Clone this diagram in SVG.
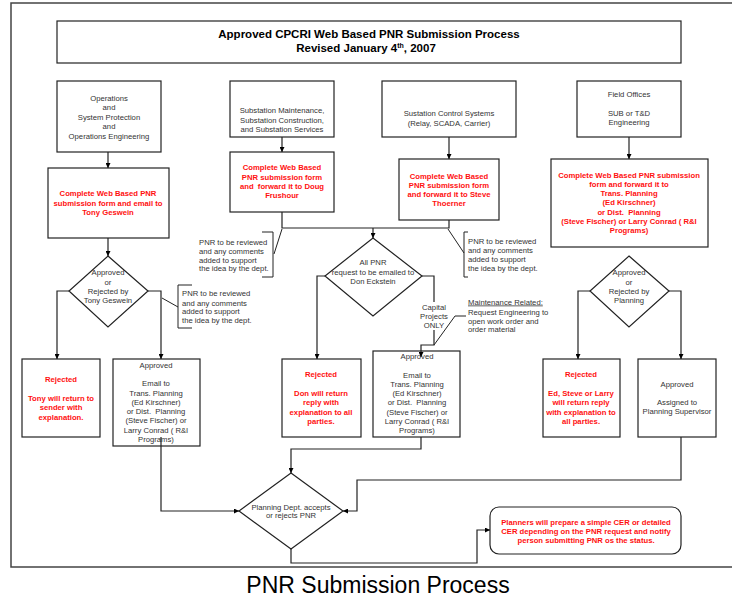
<svg xmlns="http://www.w3.org/2000/svg" width="732" height="602" viewBox="0 0 732 602">
<style>
text{font-family:"Liberation Sans",Arial,sans-serif;font-size:7.7px;fill:#333;text-anchor:middle}
.r{fill:#ff1010;font-weight:bold}
.l{text-anchor:start}
.box{fill:#fff;stroke:#222;stroke-width:1.2}
.c{fill:none;stroke:#222;stroke-width:1.2}
.a{fill:none;stroke:#222;stroke-width:1.2;marker-end:url(#ah)}
.t{font-size:11.5px;font-weight:bold;fill:#000}
.k{fill:none;stroke:#222;stroke-width:1}
</style>
<defs>
<marker id="ah" viewBox="0 0 6 6" refX="6" refY="3" markerWidth="5" markerHeight="5" markerUnits="userSpaceOnUse" orient="auto">
<path d="M0,0L6,3L0,6z" fill="#000"/>
</marker>
</defs>
<rect width="732" height="602" fill="#fff"/>
<path d="M740,3H11V567H740" fill="none" stroke="#444" stroke-width="1.5"/>
<g id="title">
<rect class="box" x="57" y="21" width="624" height="42"/>
<text class="t" x="369" y="38">Approved CPCRI Web Based PNR Submission Process</text>
<text class="t" x="366" y="52">Revised January 4<tspan font-size="7px" dy="-4">th</tspan><tspan dy="4">, 2007</tspan></text>
</g>
<g id="opsSource">
<rect class="box" x="57" y="81" width="104" height="71"/>
<text x="109" y="101">Operations</text>
<text x="109" y="110">and</text>
<text x="109" y="120">System Protection</text>
<text x="109" y="129">and</text>
<text x="109" y="139">Operations Engineering</text>
</g>
<g id="subSource">
<rect class="box" x="230" y="81" width="104" height="56"/>
<text x="282" y="113">Substation Maintenance,</text>
<text x="282" y="123">Substation Construction,</text>
<text x="282" y="132">and Substation Services</text>
</g>
<g id="scsSource">
<rect class="box" x="382" y="81" width="134" height="56"/>
<text x="449" y="116">Sustation Control Systems</text>
<text x="449" y="125.5">(Relay, SCADA, Carrier)</text>
</g>
<g id="fieldSource">
<rect class="box" x="577" y="81" width="104" height="56"/>
<text x="629" y="97">Field Offices</text>
<text x="629" y="116">SUB or T&amp;D</text>
<text x="629" y="125">Engineering</text>
</g>
<g id="formTony">
<rect class="box" x="48" y="168" width="121" height="70"/>
<text class="r" x="108" y="196">Complete Web Based PNR</text>
<text class="r" x="108" y="205.5">submission form and email to</text>
<text class="r" x="108" y="215">Tony Geswein</text>
</g>
<g id="formDoug">
<rect class="box" x="230" y="152" width="104" height="60"/>
<text class="r" x="282" y="170">Complete Web Based</text>
<text class="r" x="282" y="179.5">PNR submission form</text>
<text class="r" x="282" y="188.5" xml:space="preserve">and  forward it to Doug</text>
<text class="r" x="282" y="198">Frushour</text>
</g>
<g id="formSteve">
<rect class="box" x="399" y="159" width="100" height="61"/>
<text class="r" x="449" y="179">Complete Web Based</text>
<text class="r" x="449" y="188">PNR submission form</text>
<text class="r" x="449" y="197">and forward it to Steve</text>
<text class="r" x="449" y="206">Thoerner</text>
</g>
<g id="formPlanning">
<rect class="box" x="551" y="159" width="157" height="88"/>
<text class="r" x="629" y="178">Complete Web Based PNR submission</text>
<text class="r" x="629" y="187">form and forward it to</text>
<text class="r" x="629" y="196">Trans. Planning</text>
<text class="r" x="629" y="205">(Ed Kirschner)</text>
<text class="r" x="629" y="215" xml:space="preserve">or Dist.  Planning</text>
<text class="r" x="629" y="224">(Steve Fischer) or Larry Conrad ( R&amp;I</text>
<text class="r" x="629" y="233">Programs)</text>
</g>
<g id="noteDoug">
<text class="l" x="199" y="244.5">PNR to be reviewed</text>
<text class="l" x="199" y="253.5">and any comments</text>
<text class="l" x="199" y="262.5">added to support</text>
<text class="l" x="199" y="271">the idea by the dept.</text>
</g>
<g id="noteSteve">
<text class="l" x="468" y="244">PNR to be reviewed</text>
<text class="l" x="468" y="253">and any comments</text>
<text class="l" x="468" y="262">added to support</text>
<text class="l" x="468" y="271">the idea by the dept.</text>
</g>
<g id="noteTony">
<text class="l" x="182" y="296">PNR to be reviewed</text>
<text class="l" x="182" y="305.5">and any comments</text>
<text class="l" x="182" y="314">added to support</text>
<text class="l" x="182" y="323">the idea by the dept.</text>
</g>
<g id="decisionTony">
<path class="box" d="M108,256L148,291L108,327L69,291Z"/>
<text x="108" y="275">Approved</text>
<text x="108" y="284.5">or</text>
<text x="108" y="293.5">Rejected by</text>
<text x="108" y="303">Tony Geswein</text>
</g>
<g id="decisionDon">
<path class="box" d="M373,238L422,276L373,316L325,276Z"/>
<text x="373" y="265">All PNR</text>
<text x="373" y="274.5">request to be emailed to</text>
<text x="373" y="284">Don Eckstein</text>
</g>
<g id="decisionPlanning">
<path class="box" d="M629,256L669,291L629,327L590,291Z"/>
<text x="629" y="275">Approved</text>
<text x="629" y="284.5">or</text>
<text x="629" y="293.5">Rejected by</text>
<text x="629" y="303">Planning</text>
</g>
<g id="capitalLabel">
<text x="434" y="310">Capital</text>
<text x="434" y="319">Projects</text>
<text x="434" y="328">ONLY</text>
</g>
<g id="maintenanceNote">
<text class="l" x="468" y="304.5" text-decoration="underline">Maintenance Related:</text>
<text class="l" x="468" y="314.5">Request Engineering to</text>
<text class="l" x="468" y="323.5">open work order and</text>
<text class="l" x="468" y="332">order material</text>
</g>
<g id="rejectedTony">
<rect class="box" x="22" y="359" width="78" height="78"/>
<text class="r" x="61" y="382">Rejected</text>
<text class="r" x="61" y="401">Tony will return to</text>
<text class="r" x="61" y="410">sender with</text>
<text class="r" x="61" y="419.5">explanation.</text>
</g>
<g id="approvedTony">
<rect class="box" x="113" y="359" width="87" height="87"/>
<text x="156" y="368">Approved</text>
<text x="156" y="385.5">Email to</text>
<text x="156" y="395.5">Trans. Planning</text>
<text x="156" y="404.5">(Ed Kirschner)</text>
<text x="156" y="414" xml:space="preserve">or Dist.  Planning</text>
<text x="156" y="423">(Steve Fischer) or</text>
<text x="156" y="433">Larry Conrad ( R&amp;I</text>
<text x="156" y="442">Programs)</text>
</g>
<g id="rejectedDon">
<rect class="box" x="282" y="359" width="79" height="78"/>
<text class="r" x="321" y="377">Rejected</text>
<text class="r" x="321" y="396">Don will return</text>
<text class="r" x="321" y="405">reply with</text>
<text class="r" x="321" y="414.5">explanation to all</text>
<text class="r" x="321" y="424">parties.</text>
</g>
<g id="approvedDon">
<rect class="box" x="373" y="351" width="87" height="86"/>
<text x="417" y="359">Approved</text>
<text x="417" y="378">Email to</text>
<text x="417" y="387">Trans. Planning</text>
<text x="417" y="395.5">(Ed Kirschner)</text>
<text x="417" y="404.5" xml:space="preserve">or Dist.  Planning</text>
<text x="417" y="414.5">(Steve Fischer) or</text>
<text x="417" y="423.5">Larry Conrad ( R&amp;I</text>
<text x="417" y="433">Programs)</text>
</g>
<g id="rejectedPlanning">
<rect class="box" x="543" y="359" width="77" height="78"/>
<text class="r" x="581" y="377">Rejected</text>
<text class="r" x="581" y="396">Ed, Steve or Larry</text>
<text class="r" x="581" y="405">will return reply</text>
<text class="r" x="581" y="414.5">with explanation to</text>
<text class="r" x="581" y="424">all parties.</text>
</g>
<g id="approvedPlanning">
<rect class="box" x="638" y="359" width="78" height="78"/>
<text x="677" y="387">Approved</text>
<text x="677" y="405">Assigned to</text>
<text x="677" y="414">Planning Supervisor</text>
</g>
<g id="planningDecision">
<path class="box" d="M291,473L343,511L291,549L239,511Z"/>
<text x="291" y="509.5">Planning Dept. accepts</text>
<text x="291" y="518">or rejects PNR</text>
</g>
<g id="planners">
<rect class="box" x="490" y="507" width="191" height="47" rx="9"/>
<text class="r" x="586" y="524.5">Planners will prepare a simple CER or detailed</text>
<text class="r" x="586" y="533.5">CER depending on the PNR request and notify</text>
<text class="r" x="586" y="542.5">person submitting PNR os the status.</text>
</g>
<text x="378" y="593" style="font-size:23px;fill:#000">PNR Submission Process</text>
<g id="connectors">
<path class="a" d="M108,152V168"/>
<path class="a" d="M282,137V152"/>
<path class="a" d="M449,137V159"/>
<path class="a" d="M629,137V159"/>
<path class="a" d="M108,238V256"/>
<path class="a" d="M69,291H57V359"/>
<path class="a" d="M148,291H161V359"/>
<path class="c" d="M282,212V228H449V220"/>
<path class="a" d="M373,228V238"/>
<path class="a" d="M325,276H317V359"/>
<path class="c" d="M422,276H434V302"/>
<path class="a" d="M434,330V345H421V357"/>
<path class="a" d="M590,291H578V359"/>
<path class="a" d="M669,291H681V359"/>
<path class="a" d="M161,437V511H239"/>
<path class="a" d="M421,437V449H291V473"/>
<path class="a" d="M681,437V480H357V511H343"/>
<path class="a" d="M291,549V563H477V530H490"/>
<path class="k" d="M262,232H273V277H262M274,254L282,229"/>
<path class="k" d="M468,232H464V277H468M464,253L448,229"/>
<path class="k" d="M192,285H178V328H192M178,307L162,298"/>
<path class="k" d="M466,316H455L434,345"/>
</g>
</svg>
